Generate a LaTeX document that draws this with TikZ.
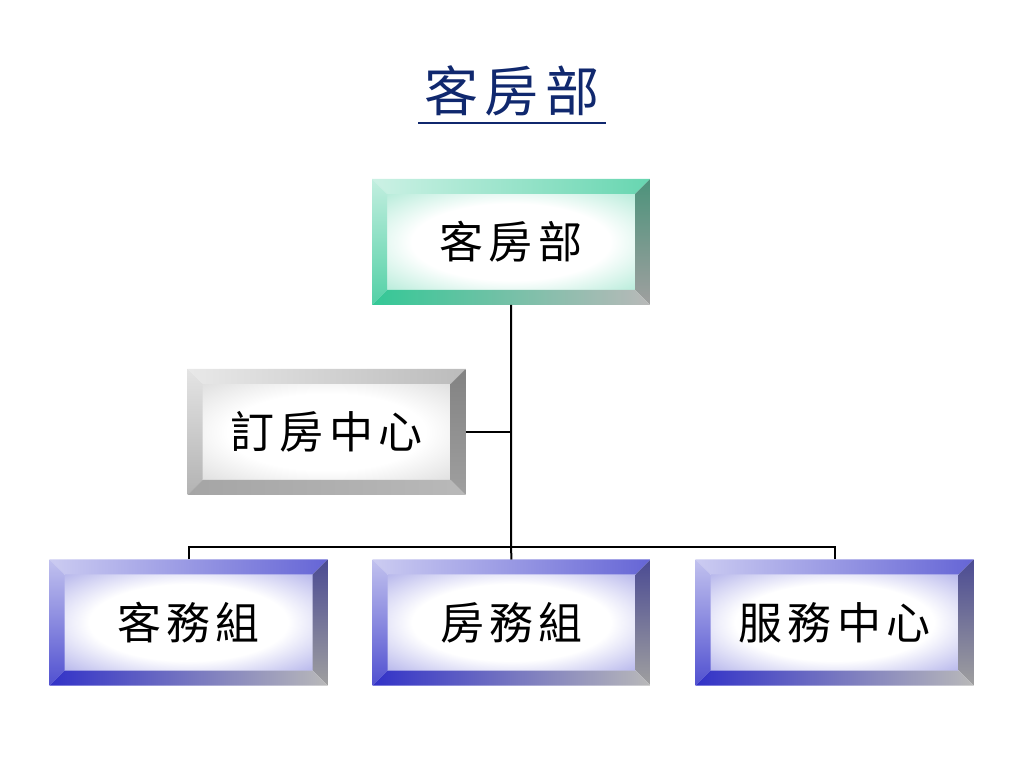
\documentclass[tikz,border=0pt]{standalone}
\usepackage{fontspec}
\newfontfamily\cjk[LetterSpace=12]{Noto Sans CJK TC}
\usetikzlibrary{positioning,calc}
\definecolor{navy}{RGB}{16,40,110}
\definecolor{teal}{RGB}{52,200,150}
\definecolor{violet}{RGB}{50,50,200}
\definecolor{silver}{RGB}{165,165,165}
\colorlet{boxc}{teal}
\pgfdeclareradialshading[boxc]{boxface}{\pgfpoint{0bp}{0bp}}{%
  color(0bp)=(white); color(20bp)=(white); color(40bp)=(boxc!45!white);
  color(55bp)=(boxc!85!white); color(70bp)=(boxc)}

\begin{document}
\begin{tikzpicture}[x=1pt,y=1pt,
  conn/.style={draw=black,line width=2pt},
  orgbox/.style={minimum width=278pt,minimum height=126pt,inner sep=0pt,outer sep=0pt,
    font=\cjk\fontsize{44}{50}\selectfont,
    path picture={
      \colorlet{boxc}{#1}
      \coordinate (nw) at (path picture bounding box.north west);
      \coordinate (ne) at (path picture bounding box.north east);
      \coordinate (sw) at (path picture bounding box.south west);
      \coordinate (se) at (path picture bounding box.south east);
      \shade[shading=boxface] ([shift={(15,-15)}]nw) rectangle ([shift={(-15,15)}]se);
      \shade[left color=#1!25!white,right color=#1!75!white] (nw) -- (ne) -- ([shift={(-15,-15)}]ne) -- ([shift={(15,-15)}]nw) -- cycle;
      \shade[top color=#1!30!white,bottom color=#1!85!white] (nw) -- ([shift={(15,-15)}]nw) -- ([shift={(15,15)}]sw) -- (sw) -- cycle;
      \shade[top color=#1!60!black!80,bottom color=gray!75] (ne) -- (se) -- ([shift={(-15,15)}]se) -- ([shift={(-15,-15)}]ne) -- cycle;
      \shade[left color=#1,right color=gray!55] (sw) -- ([shift={(15,15)}]sw) -- ([shift={(-15,15)}]se) -- (se) -- cycle;
    }}]
\useasboundingbox (0,0) rectangle (1024,768);

\node[text=navy,inner sep=0pt,anchor=base,font=\cjk\fontsize{54}{60}\selectfont] (title) at (512,656) {客房部};
\draw[navy,line width=2pt] ([shift={(-6,-11)}]title.base west) -- ([shift={(6,-11)}]title.base east);

\node[orgbox=teal] (top) at (511,526) {客房部};
\node[orgbox=silver] (desk) at (326.5,336) {訂房中心};
\node[orgbox=violet] (guest) at (188.5,145.5) {客務組};
\node[orgbox=violet] (room) at (511.5,145.5) {房務組};
\node[orgbox=violet] (serv) at (834.5,145.5) {服務中心};
\coordinate (bus) at (511,221);

\draw[conn] (top.south) -- (bus) -- (room.north);
\draw[conn] (desk.east) -- (desk.east -| bus);
\draw[conn] (guest.north) -- (guest.north |- bus) -- (serv.north |- bus) -- (serv.north);
\end{tikzpicture}
\end{document}
